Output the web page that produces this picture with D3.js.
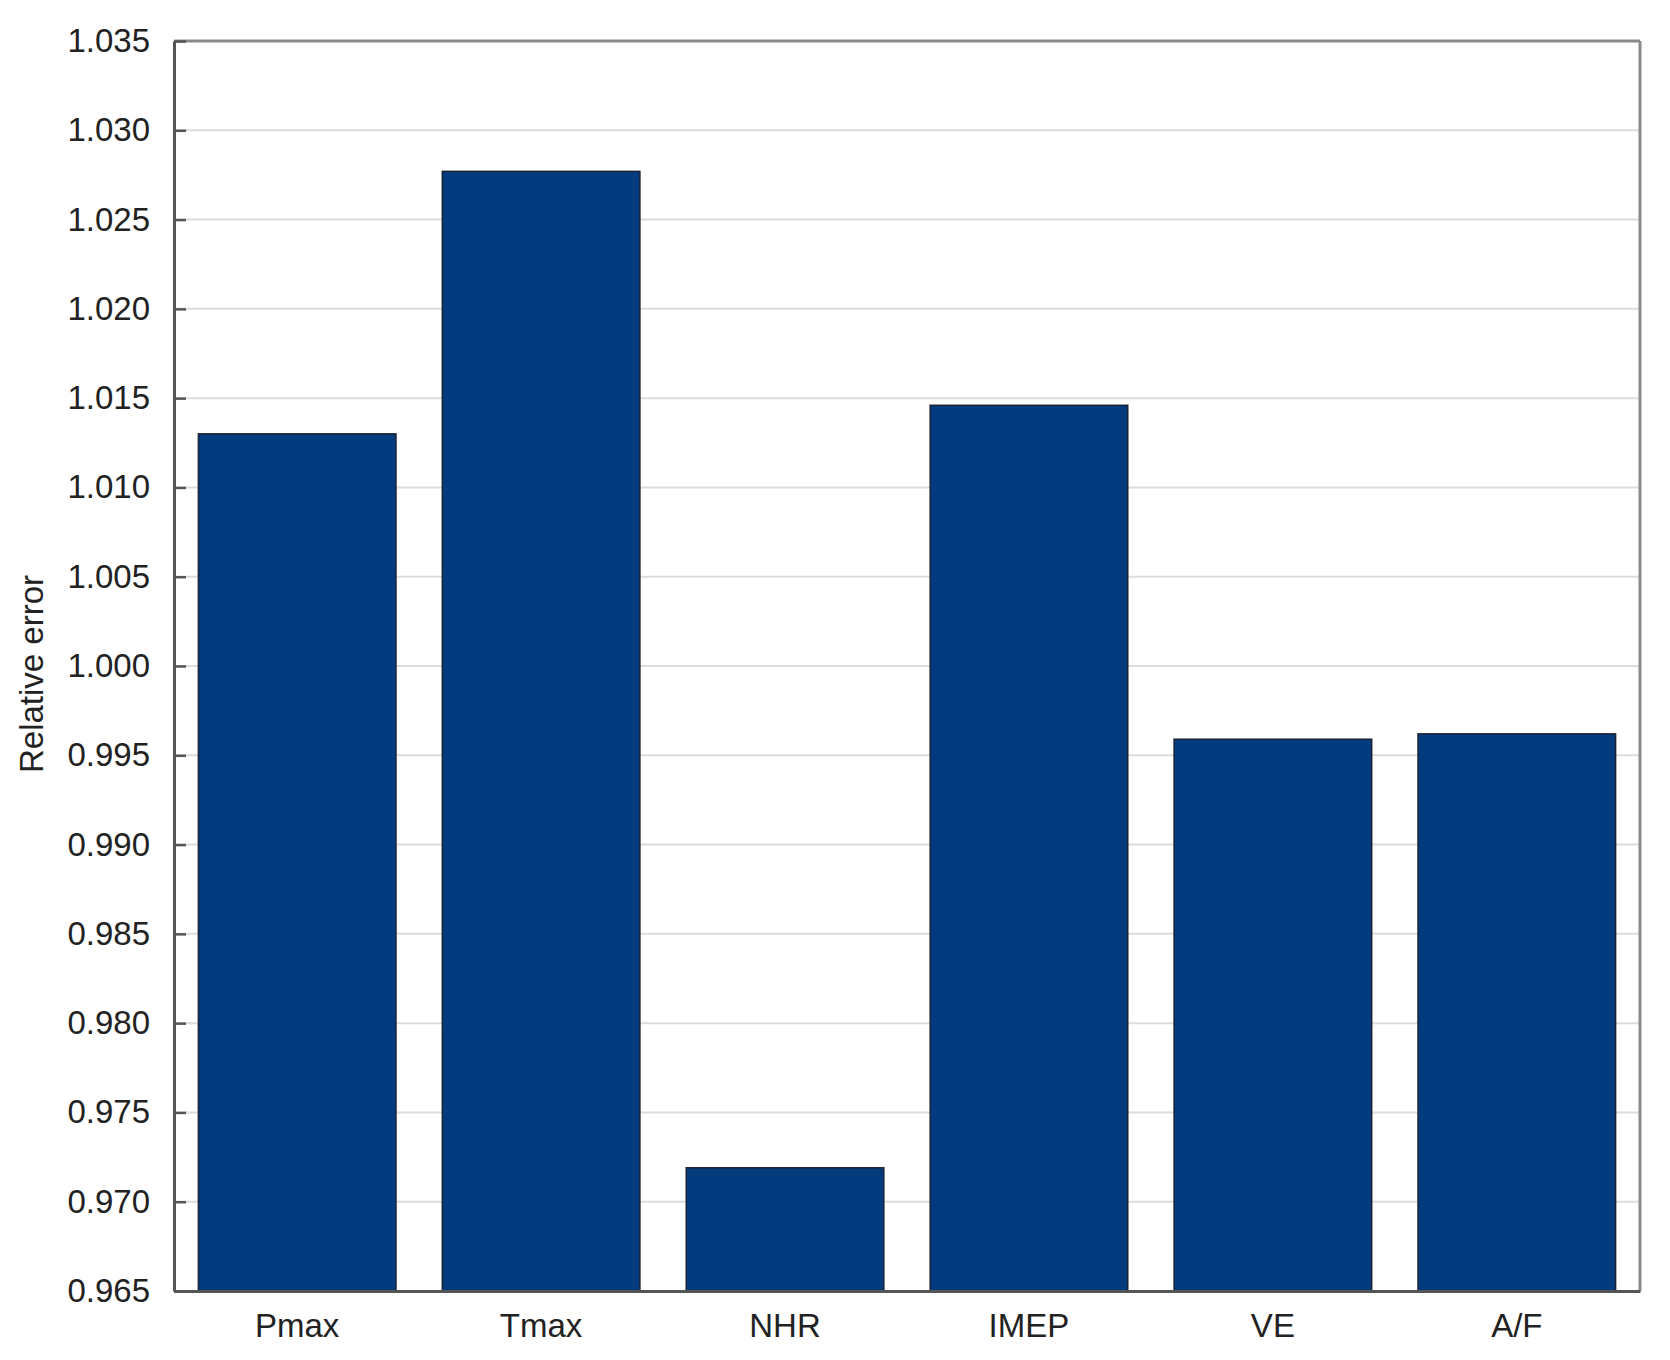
<!DOCTYPE html>
<html>
<head>
<meta charset="utf-8">
<script src="https://cdn.jsdelivr.net/npm/d3@7"></script>
<style>
  body { margin: 0; background: #fff; }
  text { font-family: "Liberation Sans", Arial, sans-serif; fill: #222; }
</style>
</head>
<body>
<svg id="chart" width="1670" height="1360"></svg>
<script>
var categories = ["Pmax", "Tmax", "NHR", "IMEP", "VE", "A/F"];
var values = [1.0130, 1.0277, 0.9719, 1.0146, 0.9959, 0.9962];
var yTicks = [0.965, 0.970, 0.975, 0.980, 0.985, 0.990, 0.995, 1.000, 1.005, 1.010, 1.015, 1.020, 1.025, 1.030, 1.035];

var margin = {top: 41, right: 30, bottom: 69, left: 174},
    width = 1670 - margin.left - margin.right,
    height = 1360 - margin.top - margin.bottom;

var svg = d3.select("#chart");
var canvas = svg.append("g")
    .attr("transform", `translate(${margin.left},${margin.top})`);

var x = d3.scaleBand()
    .domain(categories)
    .range([0, width])
    .paddingInner(0.19)
    .paddingOuter(0.1);

var y = d3.scaleLinear()
    .domain([0.965, 1.035])
    .range([height, 0]);

// grid lines
canvas.append("g").selectAll("line")
    .data(yTicks.slice(1, -1))
    .enter().append("line")
    .attr("x1", 0).attr("x2", width)
    .attr("y1", function (d) { return y(d); })
    .attr("y2", function (d) { return y(d); })
    .attr("stroke", "#dcdcdc")
    .attr("stroke-width", 2);

// bars
canvas.selectAll(".bar")
    .data(values)
    .enter().append("rect")
    .attr("class", "bar")
    .attr("x", function (d, i) { return x(categories[i]); })
    .attr("y", function (d) { return y(d); })
    .attr("width", x.bandwidth())
    .attr("height", function (d) { return height - y(d); })
    .attr("fill", "#023b7e")
    .attr("stroke", "#1c2233")
    .attr("stroke-width", 1.5);

// frame: top and right lighter
canvas.append("line")
    .attr("x1", 0).attr("x2", width).attr("y1", 0).attr("y2", 0)
    .attr("stroke", "#8a8a8a").attr("stroke-width", 3);
canvas.append("line")
    .attr("x1", width).attr("x2", width).attr("y1", 0).attr("y2", height)
    .attr("stroke", "#8a8a8a").attr("stroke-width", 3);

// y axis
var yAxis = d3.axisLeft(y)
    .tickValues(yTicks)
    .tickFormat(d3.format(".3f"))
    .tickSizeInner(-12)
    .tickSizeOuter(0)
    .tickPadding(24);
var gy = canvas.append("g").call(yAxis);
gy.select(".domain").attr("stroke", "#555").attr("stroke-width", 3);
gy.selectAll(".tick line").attr("stroke", "#555").attr("stroke-width", 2.5);
gy.selectAll(".tick text")
    .style("font-size", "33px")
    .style("font-family", "Liberation Sans, Arial, sans-serif")
    .attr("fill", "#222");

// x axis
var xAxis = d3.axisBottom(x).tickSize(0).tickPadding(23);
var gx = canvas.append("g")
    .attr("transform", `translate(0,${height})`)
    .call(xAxis);
gx.select(".domain").attr("stroke", "#555").attr("stroke-width", 3);
gx.selectAll(".tick text")
    .style("font-size", "33px")
    .style("font-family", "Liberation Sans, Arial, sans-serif")
    .attr("fill", "#222");

// y axis label
svg.append("text")
    .attr("transform", "translate(43," + (margin.top + height / 2 + 8) + ") rotate(-90)")
    .attr("text-anchor", "middle")
    .style("font-size", "33px")
    .text("Relative error");
</script>
</body>
</html>
